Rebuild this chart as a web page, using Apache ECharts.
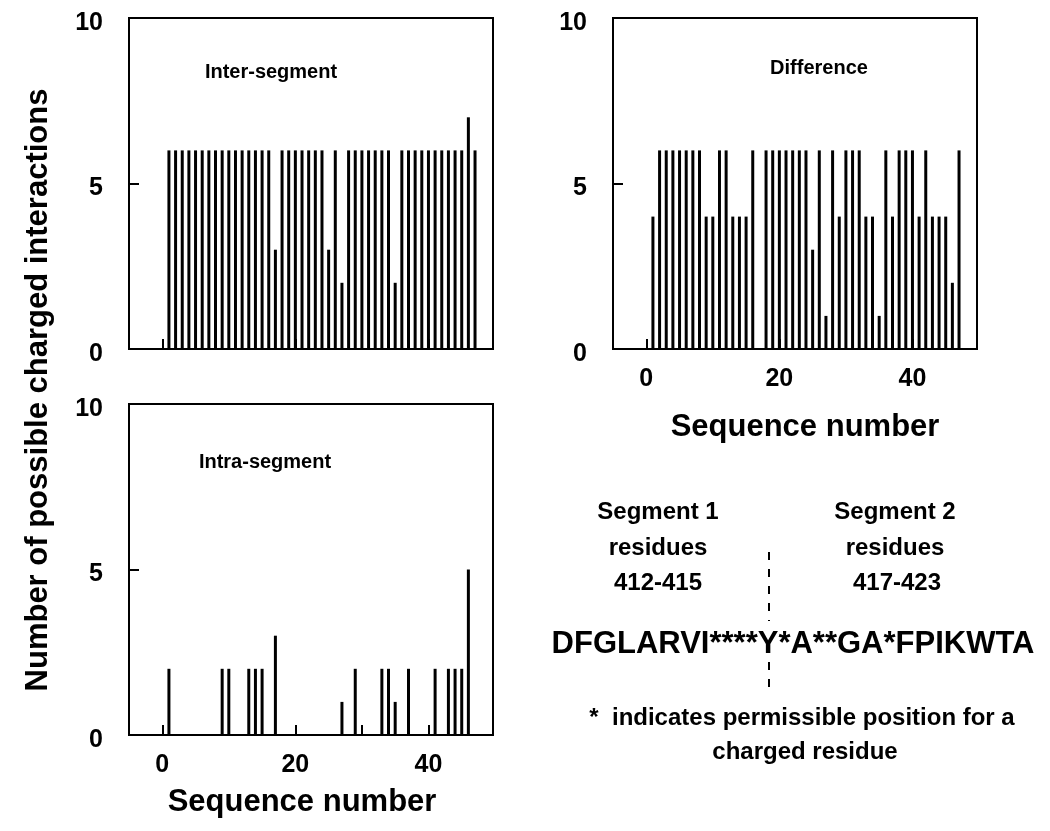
<!DOCTYPE html>
<html>
<head>
<meta charset="utf-8">
<script src="https://cdn.jsdelivr.net/npm/echarts@6.0.0/dist/echarts.min.js"></script>
<style>
html,body{margin:0;padding:0;background:#fff;}
#chart{width:1050px;height:831px;}
</style>
</head>
<body>
<div id="chart"></div>
<script>
// ---- data ----
const seq = [0,1,2,3,4,5,6,7,8,9,10,11,12,13,14,15,16,17,18,19,20,21,22,23,24,25,26,27,28,29,30,31,32,33,34,35,36,37,38,39,40,41,42,43,44,45,46,47];
const interSeg = [0,6,6,6,6,6,6,6,6,6,6,6,6,6,6,6,6,3,6,6,6,6,6,6,6,3,6,2,6,6,6,6,6,6,6,2,6,6,6,6,6,6,6,6,6,6,7,6];
const difference = [0,4,6,6,6,6,6,6,6,4,4,6,6,4,4,4,6,0,6,6,6,6,6,6,6,3,6,1,6,4,6,6,6,4,4,1,6,4,6,6,6,4,6,4,4,4,2,6];
const intraSeg = [0,2,0,0,0,0,0,0,0,2,2,0,0,2,2,2,0,3,0,0,0,0,0,0,0,0,0,1,0,2,0,0,0,2,2,1,0,2,0,0,0,2,0,2,2,2,5,0];
const xLabelValues = [0,20,40];
const xTickValues = [0,10,20,30,40];
const yTicks = [0,5,10];
const panelTitles = ['Inter-segment','Difference','Intra-segment'];
const yTitle = 'Number of possible charged interactions';
const xTitle = 'Sequence number';
const seg1Text = ['Segment 1','residues','412-415'];
const seg2Text = ['Segment 2','residues','417-423'];
const sequenceText = 'DFGLARVI****Y*A**GA*FPIKWTA';
const noteText = ['*  indicates permissible position for a','charged residue'];

const FONT = '"Liberation Sans", Arial, Helvetica, sans-serif';
const pairs = arr => seq.map((s,i)=>[s,arr[i]]);

const grids = [
  {left:129, top:18, width:364, height:331},
  {left:613, top:18, width:364, height:331},
  {left:129, top:404, width:364, height:331}
];

function xAxis(gi, showLabels){
  return {
    type:'value', gridIndex:gi, min:-5, max:49.7,
    axisLine:{show:true, onZero:false, lineStyle:{color:'#000', width:2}},
    axisTick:{show:true, inside:true, length:10, customValues:xTickValues, lineStyle:{color:'#000', width:2}},
    axisLabel:{show:showLabels, customValues:xLabelValues, margin:18, fontSize:25, fontWeight:'bold', color:'#000', fontFamily:FONT},
    splitLine:{show:false}
  };
}
function yAxis(gi){
  return {
    type:'value', gridIndex:gi, min:0, max:10, interval:5,
    axisLine:{show:true, onZero:false, lineStyle:{color:'#000', width:2}},
    axisTick:{show:true, inside:true, length:10, lineStyle:{color:'#000', width:2}},
    axisLabel:{show:true, margin:26, fontSize:25, fontWeight:'bold', color:'#000', fontFamily:FONT,
      formatter: v => '{a|' + v + '}', rich:{a:{fontSize:25, fontWeight:'bold', color:'#000', fontFamily:FONT, padding:[10,0,0,0]}}},
    splitLine:{show:false}
  };
}
function barSeries(gi, arr){
  return {
    type:'bar', xAxisIndex:gi, yAxisIndex:gi, data:pairs(arr),
    barWidth:3, itemStyle:{color:'#000'}, silent:true, animation:false
  };
}

const textStyleBase = {fill:'#000', fontFamily:FONT, fontWeight:'bold'};
function txt(x,y,text,size,extra){
  return {type:'text', x:x, y:y, style:Object.assign({text:text, fontSize:size, align:'center', verticalAlign:'middle'}, textStyleBase, extra||{})};
}
const dashStyle = {stroke:'#000', lineWidth:2, lineDash:[8,9]};

const graphic = [
  txt(271,72,panelTitles[0],20),
  txt(819,68,panelTitles[1],20),
  txt(265,462,panelTitles[2],20),
  {type:'text', x:38, y:390, rotation:Math.PI/2, style:Object.assign({text:yTitle, fontSize:31, align:'center', verticalAlign:'middle'}, textStyleBase)},
  txt(805,427,xTitle,31),
  txt(302,802,xTitle,31),
  txt(658,512,seg1Text[0],24), txt(658,548,seg1Text[1],24), txt(658,583,seg1Text[2],24),
  txt(895,512,seg2Text[0],24), txt(895,548,seg2Text[1],24), txt(897,583,seg2Text[2],24),
  {type:'line', shape:{x1:769,y1:552,x2:769,y2:621}, style:dashStyle},
  {type:'line', shape:{x1:769,y1:662,x2:769,y2:692}, style:dashStyle},
  txt(793,644,sequenceText,31),
  txt(802,718,noteText[0],24),
  txt(805,752,noteText[1],24)
];

const chart = echarts.init(document.getElementById('chart'), null, {renderer:'canvas'});
chart.setOption({
  animation:false,
  backgroundColor:'#fff',
  grid: grids.map(g=>Object.assign({show:true, borderColor:'#000', borderWidth:2, backgroundColor:'transparent'}, g)),
  xAxis:[xAxis(0,false), xAxis(1,true), xAxis(2,true)],
  yAxis:[yAxis(0), yAxis(1), yAxis(2)],
  series:[barSeries(0,interSeg), barSeries(1,difference), barSeries(2,intraSeg)],
  graphic: graphic
});
</script>
</body>
</html>
